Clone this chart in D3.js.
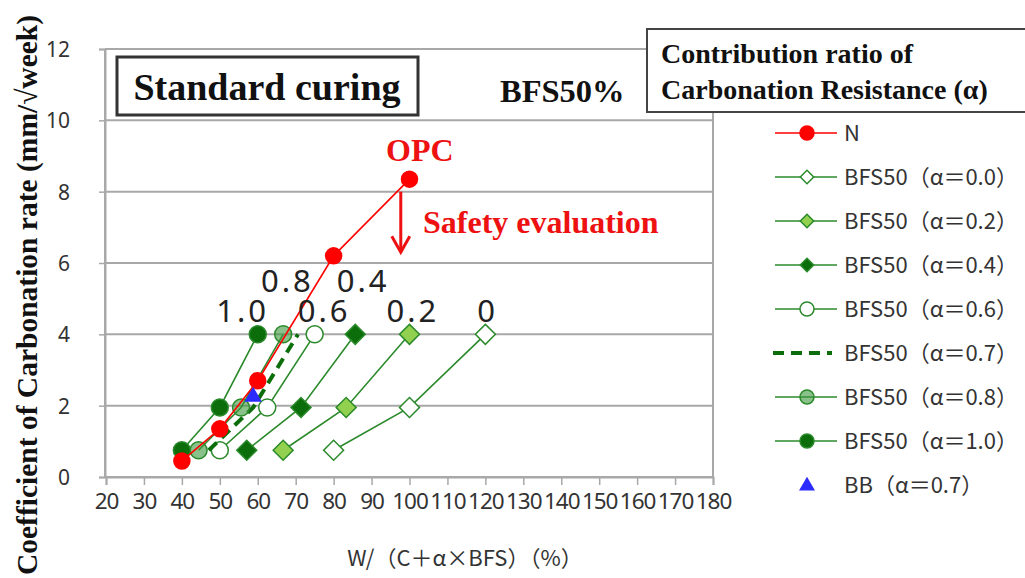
<!DOCTYPE html>
<html>
<head>
<meta charset="utf-8">
<script src="https://cdn.jsdelivr.net/npm/d3@7"></script>
<style>
  body { margin: 0; background: #fff; }
  svg { display: block; }
</style>
</head>
<body>
<div id="chart"></div>
<script>
// tick labels
var xTicks = [20, 30, 40, 50, 60, 70, 80, 90, 100, 110, 120, 130, 140, 150, 160, 170, 180];
var yTicks = [0, 2, 4, 6, 8, 10, 12];

// series values [W/(C+a*BFS), rate]
var opcN  = [[40, 0.45], [50, 1.35], [60, 2.7], [80, 6.2], [100, 8.35]];
var bfsA00 = [[80, 0.75], [100, 1.95], [120, 4.0]];
var bfsA02 = [[66.7, 0.75], [83.3, 1.95], [100, 4.0]];
var bfsA04 = [[57.1, 0.75], [71.4, 1.95], [85.7, 4.0]];
var bfsA06 = [[50, 0.75], [62.5, 1.95], [75, 4.0]];
var bfsA07 = [[47.1, 0.75], [58.8, 1.95], [70.6, 4.0]];
var bfsA08 = [[44.4, 0.75], [55.6, 1.95], [66.7, 4.0]];
var bfsA10 = [[40, 0.75], [50, 1.95], [60, 4.0]];
var bbA07 = [[58.8, 2.25]];

// alpha labels above the lines
var alphaLabels = ["0.8", "0.4", "1.0", "0.6", "0.2", "0"];
var alphaLabelX = [67.8, 87.8, 56.0, 77.5, 100.9, 120.6];
var alphaLabelY = [5.2, 5.2, 4.35, 4.35, 4.35, 4.35];

var width = 1025, height = 578;
var green = "#2b8a2b", dark = "#0b6e0b";

var svg = d3.select("#chart").append("svg").attr("width", width).attr("height", height);

var x = d3.scaleLinear().domain([20, 180]).range([106, 713]);
var y = d3.scaleLinear().domain([0, 12]).range([477, 49]);

// grid lines
svg.append("g").selectAll("line").data(yTicks).enter().append("line")
  .attr("x1", x(20) - 1).attr("x2", x(180))
  .attr("y1", function(d){ return y(d); }).attr("y2", function(d){ return y(d); })
  .attr("stroke", "#a8a8a8").attr("stroke-width", 2);

// frame
svg.append("line").attr("x1", x(20) - 1).attr("x2", x(20) - 1).attr("y1", y(12)).attr("y2", y(0))
  .attr("stroke", "#a8a8a8").attr("stroke-width", 2);
svg.append("line").attr("x1", x(180)).attr("x2", x(180)).attr("y1", y(12)).attr("y2", y(0))
  .attr("stroke", "#a8a8a8").attr("stroke-width", 2);

// axes
var xAxis = svg.append("g").attr("transform", "translate(0," + y(0) + ")")
  .call(d3.axisBottom(x).tickValues(xTicks).tickSize(8).tickPadding(8).tickFormat(d3.format("d")));
var yAxis = svg.append("g").attr("transform", "translate(" + (x(20) - 1) + ",0)")
  .call(d3.axisLeft(y).tickValues(yTicks).tickSize(6).tickPadding(29));
[xAxis, yAxis].forEach(function(ax){
  ax.select(".domain").attr("stroke", "#a8a8a8").attr("stroke-width", 2);
  ax.selectAll(".tick line").attr("stroke", "#a8a8a8").attr("stroke-width", 1.5);
  ax.selectAll("text").attr("fill", "#333").style("font-family", "'Noto Sans', sans-serif");
});
xAxis.selectAll("text").style("font-size", "22.5px").style("letter-spacing", "-1px");
yAxis.selectAll("text").style("font-size", "21px").attr("dy", "0.35em");

// axis titles
svg.append("text").attr("x", 465).attr("y", 566).attr("text-anchor", "middle")
  .style("font-family", "'Noto Sans CJK JP', sans-serif").style("font-size", "22px").attr("fill", "#333")
  .text("W/（C＋α×BFS）（%）");
svg.append("text").attr("transform", "translate(37,295) rotate(-90)").attr("text-anchor", "middle")
  .style("font-family", "'Liberation Serif', serif").style("font-weight", "bold").style("font-size", "29.5px")
  .attr("fill", "#111").text("Coefficient of Carbonation rate (mm/√week)");

var line = d3.line().x(function(d){ return x(d[0]); }).y(function(d){ return y(d[1]); });
var diamond = d3.symbol().type(d3.symbolSquare).size(200);
var diamondS = d3.symbol().type(d3.symbolSquare).size(90);

var series = [
  { data: bfsA00, stroke: green, marker: "diamond", fill: "#fff", label: "BFS50（α＝0.0）" },
  { data: bfsA02, stroke: green, marker: "diamond", fill: "#92d050", label: "BFS50（α＝0.2）" },
  { data: bfsA04, stroke: green, marker: "diamond", fill: dark, label: "BFS50（α＝0.4）" },
  { data: bfsA06, stroke: green, marker: "circle", fill: "#fff", label: "BFS50（α＝0.6）" },
  { data: bfsA07, stroke: dark, marker: "none", dash: "11,7", width: 4, label: "BFS50（α＝0.7）" },
  { data: bfsA08, stroke: green, marker: "circle", fill: "rgba(60,150,60,0.6)", label: "BFS50（α＝0.8）" },
  { data: bfsA10, stroke: green, marker: "circle", fill: dark, label: "BFS50（α＝1.0）" }
];
var opcSeries = { data: opcN, stroke: "#ff0000", marker: "circle", fill: "#ff0000", label: "N", r: 8 };

function drawMarkers(g, s, pts, small) {
  if (s.marker === "circle") {
    g.selectAll("circle.m").data(pts).enter().append("circle").attr("class", "m")
      .attr("cx", function(d){ return d[0]; }).attr("cy", function(d){ return d[1]; })
      .attr("r", small ? 7 : (s.r || 8.5))
      .attr("fill", s.fill).attr("stroke", s.fill === "#ff0000" ? "#ff0000" : green).attr("stroke-width", 1.5);
  } else if (s.marker === "diamond") {
    g.selectAll("path.m").data(pts).enter().append("path").attr("class", "m")
      .attr("d", small ? diamondS : diamond)
      .attr("transform", function(d){ return "translate(" + d[0] + "," + d[1] + ") rotate(45)"; })
      .attr("fill", s.fill).attr("stroke", green).attr("stroke-width", 1.5);
  }
}

series.forEach(function(s){
  var g = svg.append("g");
  g.append("path").datum(s.data).attr("d", line).attr("fill", "none")
    .attr("stroke", s.stroke).attr("stroke-width", s.width || 1.6)
    .attr("stroke-dasharray", s.dash || null);
  drawMarkers(g, s, s.data.map(function(d){ return [x(d[0]), y(d[1])]; }), false);
});

var gN = svg.append("g");
gN.append("path").datum(opcN).attr("d", line).attr("fill", "none").attr("stroke", "#ff0000").attr("stroke-width", 1.6);
drawMarkers(gN, opcSeries, opcN.map(function(d){ return [x(d[0]), y(d[1])]; }), false);

var tri = d3.symbol().type(d3.symbolTriangle).size(130);
svg.selectAll("path.bb").data(bbA07).enter().append("path").attr("class", "bb")
  .attr("d", tri).attr("transform", function(d){ return "translate(" + x(d[0]) + "," + y(d[1]) + ")"; })
  .attr("fill", "#2b2bff");

// alpha labels
svg.append("g").selectAll("text").data(alphaLabels).enter().append("text")
  .attr("x", function(d, i){ return x(alphaLabelX[i]); })
  .attr("y", function(d, i){ return y(alphaLabelY[i]); })
  .attr("text-anchor", "middle")
  .style("font-family", "'Noto Sans', sans-serif").style("font-size", "31px").style("letter-spacing", "3px")
  .attr("fill", "#222").text(function(d){ return d; });

// annotations
svg.append("text").attr("x", 386).attr("y", 161)
  .style("font-family", "'Liberation Serif', serif").style("font-weight", "bold").style("font-size", "32px")
  .attr("fill", "#ee1111").text("OPC");
svg.append("text").attr("x", 423).attr("y", 233)
  .style("font-family", "'Liberation Serif', serif").style("font-weight", "bold").style("font-size", "32px")
  .attr("fill", "#ee1111").text("Safety evaluation");
svg.append("line").attr("x1", x(97.7)).attr("x2", x(97.7)).attr("y1", y(8.0)).attr("y2", y(6.3))
  .attr("stroke", "#ee1111").attr("stroke-width", 3);
svg.append("path")
  .attr("d", "M" + (x(97.7) - 9) + "," + (y(6.3) - 16) + "L" + x(97.7) + "," + y(6.3) + "L" + (x(97.7) + 9) + "," + (y(6.3) - 16))
  .attr("fill", "none").attr("stroke", "#ee1111").attr("stroke-width", 3);

// Standard curing box
svg.append("rect").attr("x", 117).attr("y", 57).attr("width", 301).attr("height", 58)
  .attr("fill", "#fff").attr("stroke", "#333").attr("stroke-width", 3);
svg.append("text").attr("x", 267).attr("y", 100).attr("text-anchor", "middle")
  .style("font-family", "'Liberation Serif', serif").style("font-weight", "bold").style("font-size", "38px")
  .attr("fill", "#111").text("Standard curing");
svg.append("text").attr("x", 500).attr("y", 102)
  .style("font-family", "'Liberation Serif', serif").style("font-weight", "bold").style("font-size", "32.5px")
  .attr("fill", "#111").text("BFS50%");

// legend title box
svg.append("rect").attr("x", 647).attr("y", 29).attr("width", 400).attr("height", 83)
  .attr("fill", "#fff").attr("stroke", "#444").attr("stroke-width", 2);
svg.append("text").attr("x", 661).attr("y", 63)
  .style("font-family", "'Liberation Serif', serif").style("font-weight", "bold").style("font-size", "28px")
  .attr("fill", "#111").text("Contribution ratio of");
svg.append("text").attr("x", 661).attr("y", 99)
  .style("font-family", "'Liberation Serif', serif").style("font-weight", "bold").style("font-size", "28px")
  .attr("fill", "#111").text("Carbonation Resistance (α)");

// legend
var legendItems = [opcSeries].concat(series).concat([{ marker: "triangle", label: "BB（α＝0.7）" }]);
var lg = svg.append("g").selectAll("g").data(legendItems).enter().append("g")
  .attr("transform", function(d, i){ return "translate(0," + (133 + i * 44) + ")"; });
lg.each(function(s){
  var g = d3.select(this);
  if (s.marker === "triangle") {
    g.append("path").attr("d", d3.symbol().type(d3.symbolTriangle).size(110)).attr("transform", "translate(807,1)").attr("fill", "#2b2bff");
  } else {
    g.append("line").attr("x1", s.dash ? 773 : 775).attr("x2", s.dash ? 832 : 837).attr("y1", 0).attr("y2", 0)
      .attr("stroke", s.stroke).attr("stroke-width", s.width || 1.6).attr("stroke-dasharray", s.dash || null);
    drawMarkers(g, s, [[807, 0]], true);
  }
  g.append("text").attr("x", 844).attr("y", 0).attr("dy", "0.35em")
    .style("font-family", "'Noto Sans CJK JP', sans-serif").style("font-size", "22px")
    .attr("fill", "#333").text(s.label);
});
</script>
</body>
</html>
